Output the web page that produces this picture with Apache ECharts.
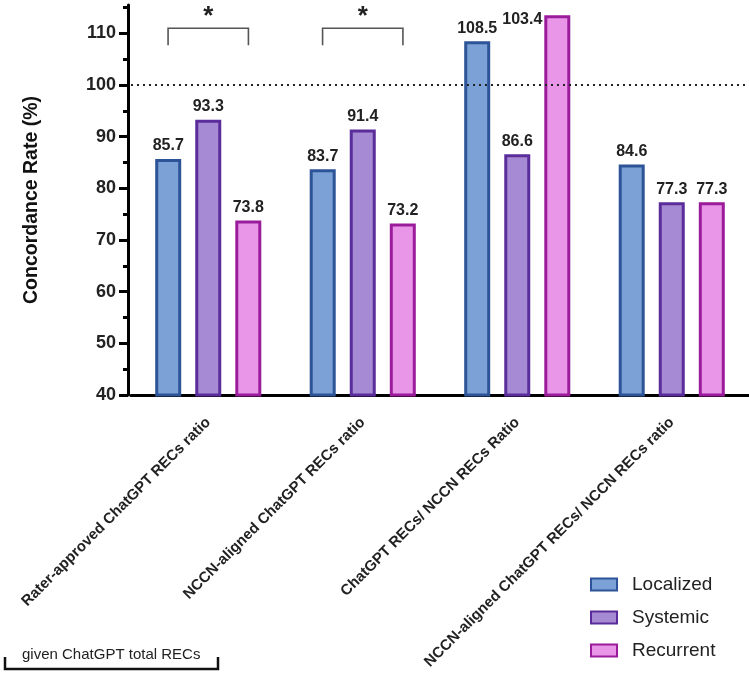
<!DOCTYPE html>
<html>
<head>
<meta charset="utf-8">
<script src="https://cdn.jsdelivr.net/npm/echarts@6/dist/echarts.min.js"></script>
<style>
html,body{margin:0;padding:0;background:#fff;}
#chart{width:749px;height:675px;}
</style>
</head>
<body>
<div id="chart"></div>
<script>
const categories = [
  'Rater-approved ChatGPT RECs ratio',
  'NCCN-aligned ChatGPT RECs ratio',
  'ChatGPT RECs/ NCCN RECs Ratio',
  'NCCN-aligned ChatGPT RECs/ NCCN RECs ratio'
];
const seriesNames = ['Localized', 'Systemic', 'Recurrent'];
const localized = [85.7, 83.7, 108.5, 84.6];
const systemic = [93.3, 91.4, 86.6, 77.3];
// bar heights as drawn in the reference
const recurrent = [73.8, 73.2, 113.5, 77.3];
// value labels as printed in the reference
const localizedLabels = ['85.7', '83.7', '108.5', '84.6'];
const systemicLabels = ['93.3', '91.4', '86.6', '77.3'];
const recurrentLabels = ['73.8', '73.2', '103.4', '77.3'];
const yTickValues = [40, 50, 60, 70, 80, 90, 100, 110];
const yMinorValues = [45, 55, 65, 75, 85, 95, 105, 115];
const referenceLine = 100;
// [categoryIndex, bracket top, bracket leg bottom, star position, mark]
const sigBrackets = [[0, 111, 107.7, 113.9, '*'], [1, 111, 107.7, 113.9, '*']];
const footnote = 'given ChatGPT total RECs';

const fills = ['#7BA1D6', '#A68AD3', '#E996E8'];
const borders = ['#2C5496', '#5A2D9A', '#9A1C9B'];
const FONT = '"Liberation Sans", Arial, Helvetica, sans-serif';

const chart = echarts.init(document.getElementById('chart'));

function barSeries(idx, values, labels) {
  return {
    name: seriesNames[idx],
    type: 'bar',
    z: 3,
    barWidth: 26,
    barGap: '54%',
    itemStyle: { color: fills[idx], borderColor: borders[idx], borderWidth: 3 },
    label: {
      show: true,
      position: 'top',
      distance: 5,
      fontFamily: FONT,
      fontSize: 16,
      fontWeight: 'bold',
      color: '#222',
      formatter: p => labels[p.dataIndex]
    },
    data: values.map((v, i) => {
      if (idx === 2 && v > 110) {
        return { value: v, label: { offset: [-35, 17] } };
      }
      return v;
    })
  };
}

const option = {
  backgroundColor: '#fff',
  animation: false,
  grid: { left: 131, right: -6, top: 5, bottom: 280, containLabel: false },
  legend: {
    data: seriesNames,
    orient: 'vertical',
    left: 590,
    top: 575,
    padding: 0,
    itemWidth: 26,
    itemHeight: 12,
    itemGap: 14,
    icon: 'rect',
    itemStyle: { borderWidth: 2 },
    textStyle: { fontFamily: FONT, fontSize: 19, color: '#222', padding: [0, 0, 0, 10] }
  },
  xAxis: {
    type: 'category',
    data: categories,
    axisLine: { lineStyle: { color: '#000', width: 3 } },
    axisTick: { alignWithLabel: true, length: 9, lineStyle: { color: '#000', width: 3 } },
    axisLabel: {
      interval: 0,
      rotate: 45,
      margin: 25,
      fontFamily: FONT,
      fontSize: 15,
      fontWeight: 'bold',
      color: '#222'
    }
  },
  yAxis: [{
    type: 'value',
    min: 40,
    max: 115.5,
    interval: 10,
    name: 'Concordance Rate (%)',
    nameLocation: 'middle',
    nameGap: 86,
    nameTextStyle: { fontFamily: FONT, fontSize: 19.5, fontWeight: 'bold', color: '#111' },
    offset: 3,
    axisLine: { show: true, lineStyle: { color: '#000', width: 3 } },
    axisTick: { show: true, length: 9, customValues: yTickValues, lineStyle: { color: '#000', width: 3 } },
    axisLabel: {
      customValues: yTickValues,
      margin: 12,
      fontFamily: FONT,
      fontSize: 18,
      fontWeight: 'bold',
      color: '#222'
    },
    splitLine: { show: false }
  }, {
    type: 'value',
    position: 'left',
    min: 40,
    max: 115.5,
    offset: 3,
    axisLine: { show: false },
    axisTick: { show: true, length: 5, customValues: yMinorValues, lineStyle: { color: '#000', width: 3 } },
    axisLabel: { show: false },
    splitLine: { show: false }
  }],
  series: [
    {
      name: 'ref',
      type: 'line',
      z: 1,
      data: [],
      markLine: {
        silent: true,
        symbol: 'none',
        label: { show: false },
        lineStyle: { color: '#222', width: 2, type: [2, 4] },
        data: [{ yAxis: referenceLine }]
      }
    },
    barSeries(0, localized, localizedLabels),
    barSeries(1, systemic, systemicLabels),
    barSeries(2, recurrent, recurrentLabels),
    {
      name: 'sig',
      type: 'custom',
      z: 4,
      clip: false,
      data: sigBrackets,
      renderItem: function (params, api) {
        const c = api.value(0);
        const top = api.coord([c, api.value(1)]);
        const leg = api.coord([c, api.value(2)]);
        const star = api.coord([c, api.value(3)]);
        const half = api.size([1, 0])[0] * 0.26;
        return {
          type: 'group',
          children: [{
            type: 'polyline',
            shape: { points: [[top[0] - half, leg[1]], [top[0] - half, top[1]], [top[0] + half, top[1]], [top[0] + half, leg[1]]] },
            style: { stroke: '#555', lineWidth: 1.6, fill: null }
          }, {
            type: 'text',
            x: star[0],
            y: star[1] + 4,
            style: { text: sigBrackets[params.dataIndex][4], fontFamily: FONT, fontSize: 26, fontWeight: 'bold', fill: '#222', align: 'center', verticalAlign: 'middle' }
          }]
        };
      }
    }
  ],
  graphic: [
    {
      type: 'text',
      left: 22,
      top: 647,
      style: { text: footnote, fontFamily: FONT, fontSize: 15, fill: '#222' }
    },
    {
      type: 'polyline',
      shape: { points: [[5, 657], [5, 669], [218, 669], [218, 657]] },
      style: { stroke: '#111', lineWidth: 2.5, fill: null }
    }
  ]
};
chart.setOption(option);
</script>
</body>
</html>
